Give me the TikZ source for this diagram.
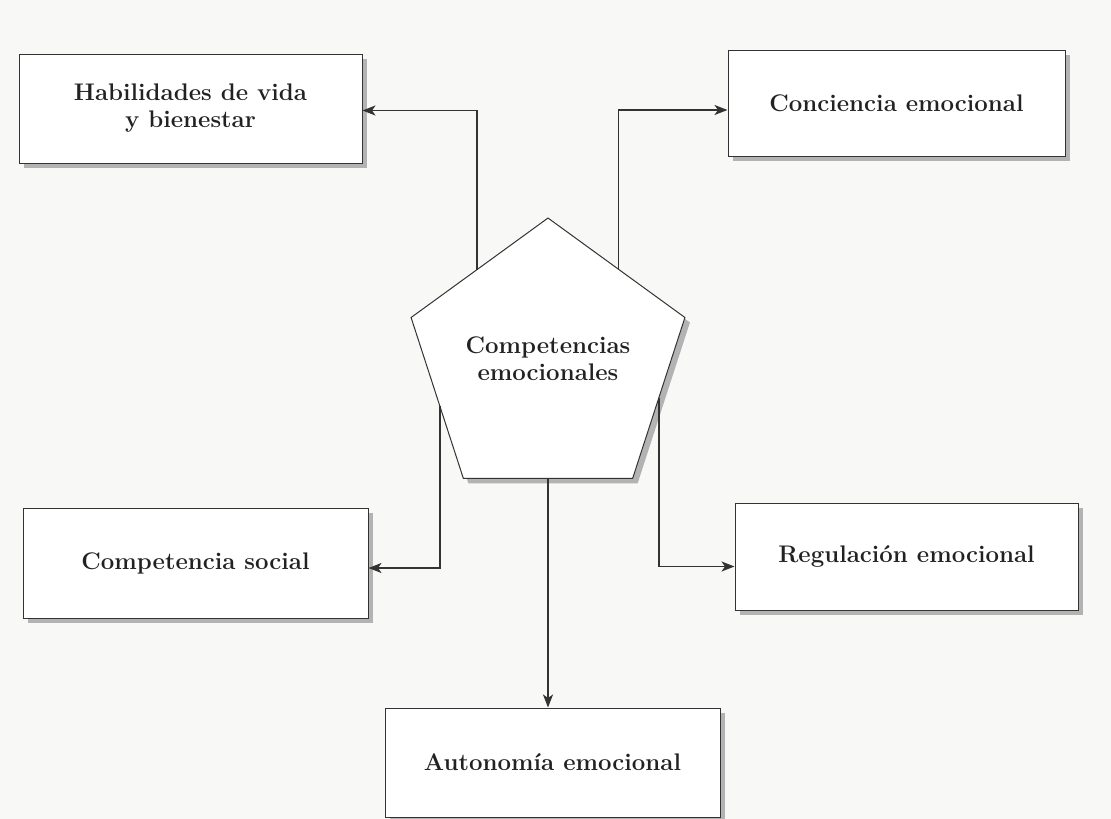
\documentclass[tikz,border=0pt]{standalone}
\usetikzlibrary{shapes.geometric,arrows.meta,shadows,calc}
\definecolor{ink}{HTML}{222222}
\definecolor{linec}{HTML}{333333}
\definecolor{paper}{HTML}{F8F8F6}
\begin{document}
\begin{tikzpicture}[x=1pt,y=-1pt,
  boxnode/.style={draw=linec, line width=1pt, fill=white, inner sep=0pt,
    drop shadow={shadow xshift=5pt, shadow yshift=-5pt, fill=gray!65, opacity=0.9},
    font=\fontsize{24}{27}\selectfont\bfseries, text=ink, align=center},
  penta/.style={regular polygon, regular polygon sides=5, draw=linec, line width=1pt,
    fill=white, minimum size=286pt, inner sep=0pt, outer sep=0pt,
    drop shadow={shadow xshift=5pt, shadow yshift=-5pt, fill=gray!65, opacity=0.9},
    font=\fontsize{24}{27}\selectfont\bfseries, text=ink, align=center},
  conn/.style={draw=linec, line width=1.7pt, -{Stealth[length=13pt,width=10pt,inset=3.5pt]}}
]
\useasboundingbox[fill=paper] (0,0) rectangle (1111,819);

\node[penta] (P) at (548,362) {\raisebox{8pt}{\begin{tabular}{@{}c@{}}Competencias\\emocionales\end{tabular}}};

\node[boxnode, minimum width=343pt, minimum height=109pt] (hab) at (190.5,108.5) {\raisebox{-4pt}{\begin{tabular}{@{}c@{}}Habilidades de vida\\y bienestar\end{tabular}}};
\node[boxnode, minimum width=337pt, minimum height=106pt] (con) at (896.5,103) {Conciencia emocional};
\node[boxnode, minimum width=345pt, minimum height=110pt] (soc) at (195.5,563) {Competencia social};
\node[boxnode, minimum width=343pt, minimum height=107pt] (reg) at (906.5,556.5) {Regulación emocional};
\node[boxnode, minimum width=335pt, minimum height=109pt] (aut) at (552.5,762.5) {Autonomía emocional};

\coordinate (s1) at ($(P.corner 1)!0.52!(P.corner 2)$);
\coordinate (s2) at ($(P.corner 1)!0.515!(P.corner 5)$);
\coordinate (s3) at ($(P.corner 2)!0.55!(P.corner 3)$);
\coordinate (s4) at ($(P.corner 5)!0.5!(P.corner 4)$);
\coordinate (s5) at ($(P.corner 3)!0.5!(P.corner 4)$);

\draw[conn] (s1) |- ([yshift=-2pt]hab.east);
\draw[conn] (s2) |- ([yshift=-7pt]con.west);
\draw[conn] (s3) |- ([yshift=-5pt]soc.east);
\draw[conn] (s4) |- ([yshift=-10pt]reg.west);
\draw[conn] (s5) -- (s5 |- aut.north);
\end{tikzpicture}
\end{document}
